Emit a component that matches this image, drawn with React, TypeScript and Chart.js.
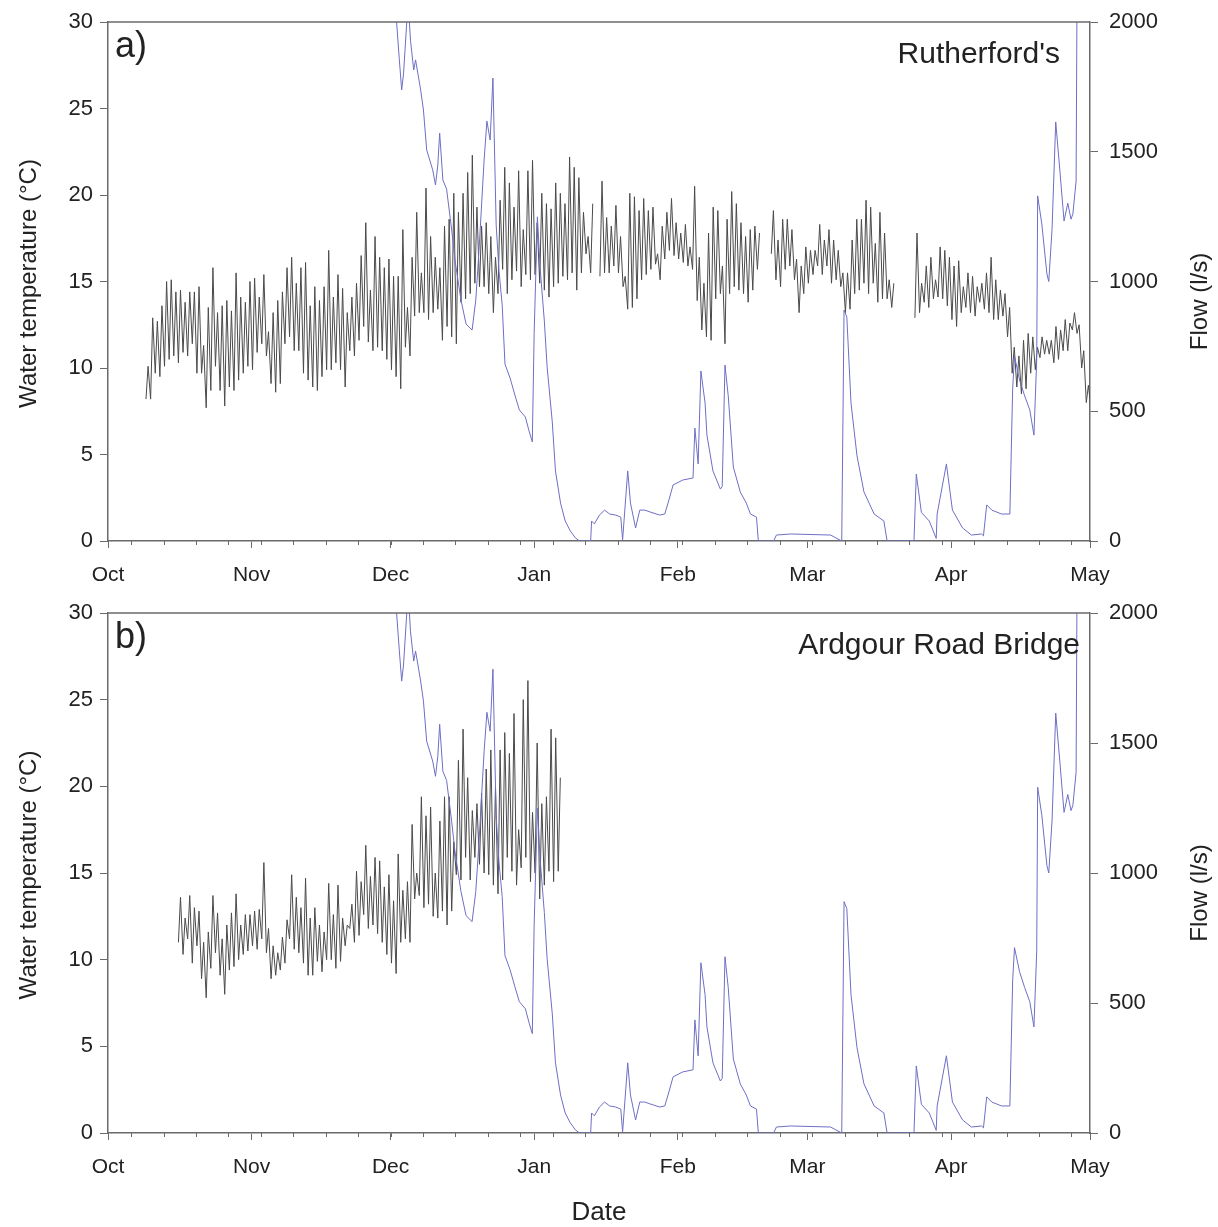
import React, { useEffect, useRef } from 'react';
import { Chart, registerables } from 'chart.js';

Chart.register(...registerables);

// ---- axes ----
const monthLabels = ['Oct', 'Nov', 'Dec', 'Jan', 'Feb', 'Mar', 'Apr', 'May'];
const monthStartDays = [0, 31, 61, 92, 123, 151, 182, 212];
const tempTicks = [0, 5, 10, 15, 20, 25, 30];
const flowTicks = [0, 500, 1000, 1500, 2000];

// ---- panel a: Rutherford's, daily max / min water temperature (°C), from day 8 (Oct 9) ----
const tempAStartDay = 8;
const tempAMax = [
  10.1, 12.9, 12.7, 13.6, 15.0, 15.1, 14.4, 14.5, 13.8, 14.4,
  14.4, 14.7, 11.3, 13.5, 15.8, 13.2, 13.6, 13.9, 13.3, 15.5,
  14.1, 13.8, 15.0, 15.2, 14.1, 15.4, 12.1, 13.2, 13.9, 14.4,
  15.8, 16.4, 14.9, 15.8, 16.1, 13.6, 14.7, 13.9, 14.7, 16.8,
  14.1, 15.4, 14.6, 13.2, 14.1, 14.9, 16.5, 18.4, 14.5, 17.6,
  16.4, 15.8, 16.3, 15.3, 15.3, 18.0, 13.5, 16.4, 19.0, 15.5,
  20.4, 17.6, 16.4, 15.8, 18.2, 18.6, 20.1, 19.0, 20.1, 21.3,
  22.3, 19.3, 18.2, 18.4, 17.6, 16.4, 19.7, 21.6, 20.7, 19.3,
  21.4, 18.0, 21.4, 22.0, 18.4, 20.1, 19.5, 19.2, 20.7, 20.1,
  19.5, 22.2, 21.6, 21.0, 19.0, 17.6, 19.5,
  null,
  20.8, 18.7, 18.2, 19.4, 17.6, 15.3, 20.1, 19.9, 19.1, 19.8,
  19.1, 19.3, 16.6, 18.2, 19.0, 19.8, 18.4, 17.8, 18.3, 17.0,
  20.5, 16.4, 14.9, 17.8, 19.3, 19.1, 15.9, 18.6, 20.2, 19.5,
  18.4, 17.6, 18.0, 18.2, 17.8,
  null, null,
  19.1, 17.4, 18.6, 18.6, 18.0, 16.3, 15.9, 17.0, 16.8, 16.8,
  18.3, 17.4, 18.0, 17.4, 16.8, 15.5, 15.5, 17.4, 18.6, 18.6,
  19.7, 19.3, 17.2, 19.0, 17.8, 15.1, 14.9,
  null, null, null, null,
  17.8, 14.9, 15.9, 16.4, 15.1, 17.0, 16.8, 16.4, 15.9, 16.2,
  14.7, 15.5, 15.3, 14.7, 14.9, 15.5, 16.4, 15.1, 14.5, 14.3,
  13.5, 11.2, 10.7, 11.6, 12.0, 11.8, 11.2, 11.8, 11.6, 11.6,
  12.4, 12.2, 12.8, 12.6, 13.2, 12.5, 11.0, 9.0, 7.9,
];
const tempAMin = [
  8.2, 8.2, 9.7, 9.5, 10.1, 10.5, 10.7, 10.3, 10.9, 10.7,
  11.4, 9.7, 9.7, 7.7, 8.7, 10.1, 8.7, 7.8, 8.9, 8.7,
  9.3, 9.7, 10.1, 9.9, 10.9, 11.4, 10.7, 9.1, 8.6, 9.1,
  11.4, 11.8, 11.0, 11.0, 9.7, 9.3, 8.9, 8.7, 9.5, 9.9,
  9.9, 10.3, 9.9, 8.9, 11.0, 10.7, 11.6, 12.4, 11.5, 11.0,
  11.2, 11.0, 10.5, 9.9, 9.5, 8.8, 11.2, 10.7, 13.0, 13.2,
  13.2, 12.8, 13.2, 13.4, 11.6, 12.4, 11.8, 11.4, 13.8, 14.0,
  14.3, 14.9, 14.7, 14.7, 14.3, 13.2, 14.3, 15.7, 14.3, 15.1,
  15.6, 14.7, 15.4, 15.1, 15.4, 14.9, 14.5, 14.1, 14.7, 14.9,
  15.3, 15.1, 15.5, 14.5, 15.5, 16.6, 15.5,
  null,
  15.3, 15.5, 15.5, 15.9, 15.5, 14.7, 13.4, 13.5, 14.0, 15.1,
  15.4, 15.7, 16.0, 15.1, 16.3, 16.8, 16.5, 16.3, 16.1, 15.9,
  15.7, 13.9, 12.2, 11.8, 11.6, 14.0, 14.3, 11.4, 14.3, 14.7,
  14.5, 14.3, 13.8, 14.5, 15.7,
  null, null,
  16.6, 15.1, 14.7, 15.7, 15.9, 15.1, 13.2, 14.3, 14.9, 15.4,
  15.9, 15.4, 15.9, 14.9, 15.1, 14.7, 13.2, 13.4, 14.3, 14.5,
  14.9, 14.3, 14.9, 13.8, 14.0, 14.0, 13.5,
  null, null, null, null,
  12.9, 13.2, 13.8, 13.5, 14.0, 14.1, 14.0, 13.6, 12.8, 12.4,
  13.2, 13.5, 13.2, 13.0, 13.8, 13.4, 13.2, 12.8, 12.8, 13.0,
  11.8, 9.7, 8.9, 8.5, 8.8, 9.7, 9.9, 10.6, 10.8, 10.8,
  10.3, 10.5, 11.0, 11.0, 12.2, 12.0, 10.0, 8.0, 7.7,
];

// ---- panel b: Ardgour Road Bridge, daily max / min water temperature (°C), from day 15 ----
const tempBStartDay = 15;
const tempBMax = [
  13.6, 12.4, 13.7, 13.0, 12.8, 11.0, 11.6, 13.7, 12.7, 11.2,
  12.0, 12.7, 13.8, 12.0, 12.6, 12.6, 12.8, 12.9, 15.6, 11.8,
  10.8, 10.4, 11.3, 12.3, 14.9, 13.6, 13.0, 14.7, 12.4, 13.0,
  12.0, 11.6, 14.4, 12.6, 14.3, 12.4, 12.0, 13.2, 15.1, 14.5,
  16.6, 14.8, 15.9, 15.7, 14.2, 14.9, 13.4, 16.1, 14.0, 14.5,
  17.8, 15.0, 19.4, 18.3, 18.8, 15.0, 18.0, 19.4, 19.4, 16.8,
  21.5, 23.3, 20.5, 18.6, 19.0, 19.6, 21.0, 22.1, 20.0, 22.1,
  23.1, 21.9, 24.2, 17.5, 25.0, 26.1, 18.5, 22.5, 19.0, 19.4,
  23.3, 22.8, 20.5,
];
const tempBMin = [
  11.0, 10.3, 11.2, 9.8, 10.8, 8.9, 7.8, 9.5, 10.4, 9.1,
  8.0, 9.4, 9.6, 10.0, 10.3, 10.5, 10.8, 10.6, 11.2, 10.4,
  8.9, 9.1, 9.4, 9.8, 11.2, 10.6, 10.4, 9.8, 9.1, 9.1,
  9.9, 9.3, 10.0, 10.0, 9.5, 9.9, 10.8, 11.8, 11.0, 11.4,
  12.6, 11.8, 12.0, 11.5, 11.0, 10.3, 9.8, 9.2, 11.0, 11.2,
  11.0, 13.5, 13.7, 13.0, 13.2, 12.5, 12.4, 12.8, 12.0, 12.8,
  14.9, 14.6, 15.9, 14.6, 15.9, 15.5, 15.0, 14.9, 14.3, 13.8,
  14.6, 15.9, 15.1, 14.3, 15.3, 15.9, 14.5, 15.0, 13.5, 14.3,
  15.1, 14.5, 15.1,
];

// ---- flow (l/s), same record in both panels; day = days since Oct 1 ----
const flowDays = [
  60, 62.3, 62.9, 63.4, 63.8, 64.5, 64.9, 65.3, 66.0, 66.4,
  67.5, 68.1, 68.8, 70.1, 70.7, 71.2, 71.6, 72.3, 73.1, 74.2,
  74.9, 76.2, 77.3, 78.6, 79.4, 80.1, 81.2, 81.8, 82.5, 83.1,
  83.8, 84.4, 85.1, 85.7, 86.8, 87.9, 88.8, 90.1, 90.9, 91.6,
  92.0, 92.7, 93.3, 94.2, 94.8, 95.9, 96.6, 97.7, 98.7, 99.8,
  100.9, 101.8, 104.2, 104.4, 105.0, 106.1, 107.2, 108.3, 109.6, 110.7,
  111.1, 112.2, 112.8, 113.9, 114.8, 115.9, 117.0, 119.1, 120.2, 120.9,
  122.0, 124.1, 126.3, 126.7, 127.4, 128.0, 128.9, 129.3, 130.6, 132.2,
  132.6, 133.2, 133.9, 135.0, 136.5, 137.8, 138.7, 140.0, 140.4, 143.7,
  144.3, 147.4, 156.0, 158.4, 158.9, 159.5, 160.4, 161.7, 163.2, 165.4,
  167.5, 168.2, 174.0, 174.5, 175.6, 177.3, 178.8, 179.0, 181.0, 182.3,
  184.5, 186.4, 188.6, 189.0, 189.7, 190.8, 192.9, 194.7, 195.3, 195.7,
  196.8, 197.9, 199.0, 199.9, 200.5, 200.7, 201.6, 202.7, 203.1, 203.8,
  204.6, 205.5, 206.4, 207.2, 207.9, 208.3, 209.0, 209.2, 209.6,
];
const flowValues = [
  2400, 2000, 1854, 1738, 1800, 2000, 2050, 1930, 1815, 1854,
  1738, 1661, 1507, 1430, 1372, 1449, 1572, 1391, 1356, 1198,
  1083, 929, 836, 813, 929, 1121, 1468, 1618, 1545, 1784,
  1218, 1044, 909, 682, 628, 559, 505, 478, 424, 382,
  800, 1249, 1050, 848, 671, 462, 270, 146, 77, 39,
  12, 0, 0, 77, 66, 100, 119, 104, 100, 92,
  5, 270, 146, 50, 119, 119, 112, 100, 104, 146,
  216, 235, 243, 435, 297, 655, 532, 408, 270, 200,
  210, 678, 559, 285, 189, 146, 104, 92, 0, 0,
  23, 27, 23, 0, 890, 863, 532, 328, 189, 104,
  77, 0, 0, 258, 110, 77, 10, 104, 297, 119,
  50, 23, 27, 20, 139, 119, 104, 104, 585, 713,
  620, 559, 505, 408, 700, 1330, 1222, 1029, 1000, 1200,
  1615, 1426, 1233, 1302, 1240, 1260, 1387, 2100, 2500,
];

const FONT = '"Liberation Sans", Arial, Helvetica, sans-serif';
const AXIS_COLOR = '#6a6a6a';
const TEXT_COLOR = '#222';
const TEMP_COLOR = '#4a4a4a';
const FLOW_COLOR = '#6e6ec6';

function tempPoints(start: number, maxs: (number | null)[], mins: (number | null)[]) {
  const pts: { x: number; y: number | null }[] = [];
  for (let i = 0; i < maxs.length; i++) {
    const d = start + i;
    if (maxs[i] == null || mins[i] == null) {
      pts.push({ x: d + 0.5, y: null });
      continue;
    }
    pts.push({ x: d + 0.2, y: mins[i] as number });
    pts.push({ x: d + 0.65, y: maxs[i] as number });
  }
  return pts;
}

function flowPoints() {
  return flowDays.map((d, i) => ({ x: d, y: flowValues[i] }));
}

type PanelProps = {
  top: number;
  height: number;
  padTop: number;
  xAxisH: number;
  label: string;
  station: string;
  stationRight: number;
  temp: { x: number; y: number | null }[];
  showDate: boolean;
};

function Panel(p: PanelProps) {
  const ref = useRef<HTMLCanvasElement | null>(null);
  useEffect(() => {
    if (!ref.current) return;
    const decor = {
      id: 'decor',
      afterDraw(chart: any) {
        const { ctx } = chart;
        const { left, right, top, bottom } = chart.chartArea;
        ctx.save();
        // top frame line
        ctx.strokeStyle = AXIS_COLOR;
        ctx.lineWidth = 1.5;
        ctx.beginPath();
        ctx.moveTo(left, top);
        ctx.lineTo(right, top);
        ctx.stroke();
        // weekly minor ticks
        const xs = chart.scales.x;
        ctx.lineWidth = 1;
        ctx.beginPath();
        for (let d = 5; d < 212; d += 7) {
          const px = Math.round(xs.getPixelForValue(d)) + 0.5;
          ctx.moveTo(px, bottom);
          ctx.lineTo(px, bottom + 4);
        }
        ctx.stroke();
        // panel letter and station
        ctx.fillStyle = TEXT_COLOR;
        ctx.textBaseline = 'middle';
        ctx.textAlign = 'left';
        ctx.font = `36px ${FONT}`;
        ctx.fillText(p.label, left + 7, top + 25);
        ctx.textAlign = 'right';
        ctx.font = `30px ${FONT}`;
        ctx.fillText(p.station, p.stationRight, top + 33);
        // axis titles
        const cy = (top + bottom) / 2;
        ctx.font = `24px ${FONT}`;
        ctx.textAlign = 'center';
        ctx.save();
        ctx.translate(29, cy + 2);
        ctx.rotate(-Math.PI / 2);
        ctx.fillText('Water temperature (°C)', 0, 0);
        ctx.restore();
        ctx.save();
        ctx.translate(1200, cy + 20);
        ctx.rotate(-Math.PI / 2);
        ctx.fillText('Flow (l/s)', 0, 0);
        ctx.restore();
        if (p.showDate) {
          ctx.font = `26px ${FONT}`;
          ctx.fillText('Date', (left + right) / 2, p.height - 14);
        }
        ctx.restore();
      },
    };

    const tickFont = { family: FONT, size: 22 };
    const chart = new Chart(ref.current, {
      type: 'line',
      data: {
        datasets: [
          {
            data: flowPoints(),
            yAxisID: 'y1',
            borderColor: FLOW_COLOR,
            borderWidth: 1,
            pointRadius: 0,
            tension: 0,
            order: 0,
          },
          {
            data: p.temp,
            yAxisID: 'y',
            borderColor: TEMP_COLOR,
            borderWidth: 1,
            pointRadius: 0,
            tension: 0,
            spanGaps: false,
            order: 1,
          },
        ],
      } as any,
      options: {
        animation: false,
        responsive: false,
        maintainAspectRatio: false,
        layout: { padding: { top: p.padTop, left: 0, right: 0, bottom: 0 } },
        plugins: { legend: { display: false }, tooltip: { enabled: false } },
        scales: {
          x: {
            type: 'linear',
            position: 'bottom',
            min: 0,
            max: 212,
            afterBuildTicks: (s: any) => {
              s.ticks = monthStartDays.map((v) => ({ value: v }));
            },
            afterFit: (s: any) => {
              s.height = p.xAxisH;
              s.paddingLeft = 0;
              s.paddingRight = 0;
            },
            ticks: {
              autoSkip: false,
              maxRotation: 0,
              padding: 15,
              color: TEXT_COLOR,
              font: { family: FONT, size: 21 },
              callback: (v: any) => {
                const i = monthStartDays.indexOf(Number(v));
                return i >= 0 ? monthLabels[i] : '';
              },
            },
            grid: { drawOnChartArea: false, drawTicks: true, tickLength: 7, color: AXIS_COLOR },
            border: { color: AXIS_COLOR, width: 1.5 },
          },
          y: {
            type: 'linear',
            position: 'left',
            min: 0,
            max: 30,
            afterBuildTicks: (s: any) => {
              s.ticks = tempTicks.map((v) => ({ value: v }));
            },
            afterFit: (s: any) => {
              s.width = 108;
              s.paddingTop = 0;
              s.paddingBottom = 0;
            },
            ticks: { padding: 7, color: TEXT_COLOR, font: tickFont, callback: (v: any) => String(v) },
            grid: { drawOnChartArea: false, drawTicks: true, tickLength: 8, color: AXIS_COLOR },
            border: { color: AXIS_COLOR, width: 1.5 },
          },
          y1: {
            type: 'linear',
            position: 'right',
            min: 0,
            max: 2000,
            afterBuildTicks: (s: any) => {
              s.ticks = flowTicks.map((v) => ({ value: v }));
            },
            afterFit: (s: any) => {
              s.width = 128;
              s.paddingTop = 0;
              s.paddingBottom = 0;
            },
            ticks: { padding: 11, color: TEXT_COLOR, font: tickFont, callback: (v: any) => String(v) },
            grid: { drawOnChartArea: false, drawTicks: true, tickLength: 8, color: AXIS_COLOR },
            border: { color: AXIS_COLOR, width: 1.5 },
          },
        },
      } as any,
      plugins: [decor],
    });
    return () => chart.destroy();
  }, []);

  return (
    <canvas
      ref={ref}
      width={1218}
      height={p.height}
      style={{ position: 'absolute', left: 0, top: p.top, width: 1218, height: p.height, display: 'block' }}
    />
  );
}

export default function App() {
  const tempA = tempPoints(tempAStartDay, tempAMax, tempAMin);
  const tempB = tempPoints(tempBStartDay, tempBMax, tempBMin);
  return (
    <div
      style={{
        position: 'absolute',
        left: 0,
        top: 0,
        width: 1218,
        height: 1227,
        overflow: 'hidden',
        background: '#fff',
      }}
    >
      <Panel
        top={0}
        height={595}
        padTop={22}
        xAxisH={54}
        label="a)"
        station="Rutherford's"
        stationRight={1060}
        temp={tempA}
        showDate={false}
      />
      <Panel
        top={595}
        height={632}
        padTop={18}
        xAxisH={94}
        label="b)"
        station="Ardgour Road Bridge"
        stationRight={1080}
        temp={tempB}
        showDate={true}
      />
    </div>
  );
}
